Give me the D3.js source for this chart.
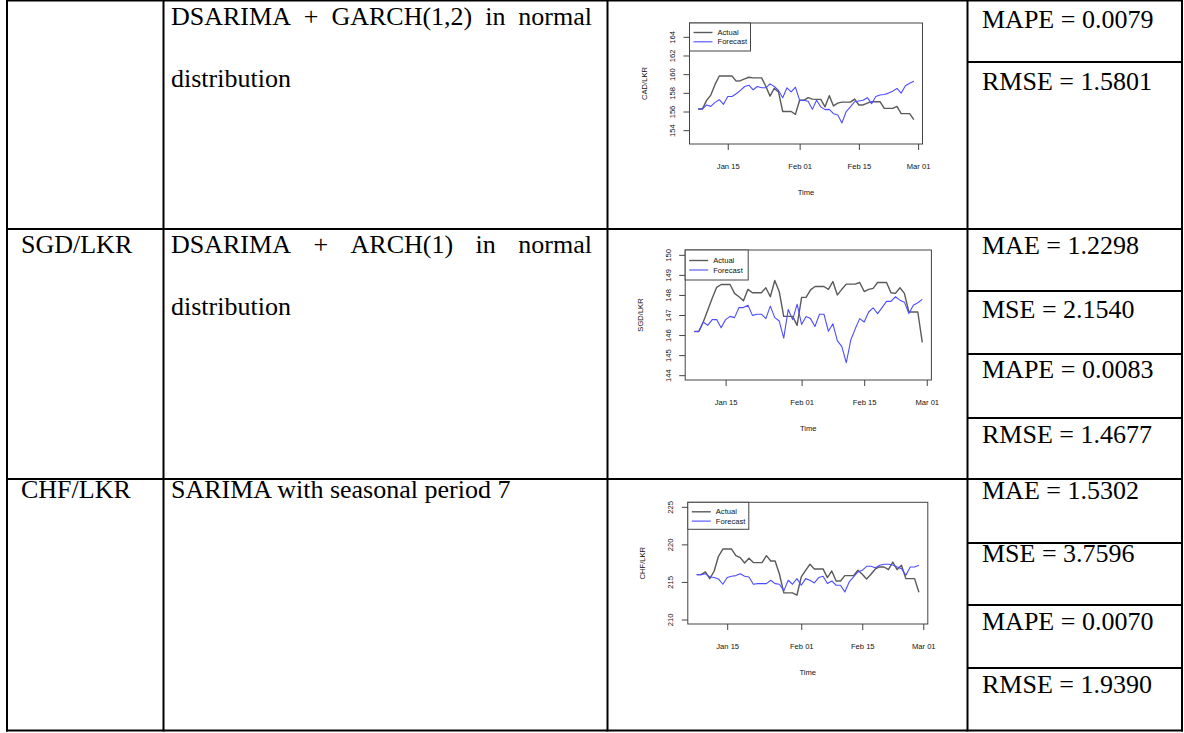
<!DOCTYPE html>
<html><head><meta charset="utf-8">
<script src="https://cdn.jsdelivr.net/npm/d3@7"></script>
<style>
html,body{margin:0;padding:0;background:#fff;}
svg{display:block;}
</style></head>
<body>
<svg id="c" width="1184" height="733"></svg>
<script>
// ---------- DATA ----------
const startDate = "2021-01-08";
const endDate = "2021-02-28";
const xTickDates = ["2021-01-15", "2021-02-01", "2021-02-15", "2021-03-01"];
const legendLabels = ["Actual", "Forecast"];

const cadActual = [156.27,156.27,157.19,157.76,158.9,159.8,159.8,159.8,159.8,159.25,
  159.3,159.5,159.67,159.6,159.6,159.6,158.7,157.65,158.47,158.1,
  156.0,156.0,156.0,155.7,157.2,157.2,157.48,157.33,157.3,157.3,
  156.5,157.7,156.6,156.9,157.0,157.0,157.0,157.33,156.7,156.7,
  156.9,157.05,157.05,157.05,156.34,156.34,156.34,156.55,155.77,155.77,
  155.77,155.13];
const cadForecast = [156.27,156.27,156.7,156.55,156.98,157.26,156.77,157.6,157.6,157.9,
  158.26,158.68,158.82,158.33,158.68,158.54,158.54,158.96,158.68,158.26,
  157.48,158.54,158.1,158.6,157.2,157.2,157.1,156.23,157.2,156.5,
  156.2,156.23,155.77,155.63,154.78,156.0,156.5,157.05,157.12,157.2,
  157.48,156.84,157.6,157.76,157.83,157.97,158.18,158.47,157.97,158.75,
  159.03,159.25];
const cadYTicks = [154,156,158,160,162,164];
const cadYLim = [153,165];

const sgdActual = [146.18,146.18,146.65,147.24,147.83,148.38,148.52,148.52,148.52,148.08,
  147.91,147.71,148.28,148.11,148.11,148.11,148.36,147.91,148.72,148.16,
  146.93,146.93,146.93,146.48,147.88,147.88,148.25,148.42,148.42,148.42,
  148.28,148.67,148.0,148.28,148.54,148.54,148.54,148.62,148.17,148.28,
  148.33,148.62,148.62,148.62,148.11,148.08,148.36,148.08,147.15,147.15,
  147.15,145.64];
const sgdForecast = [146.18,146.18,146.65,146.48,146.77,146.77,146.36,146.77,146.93,146.87,
  147.37,147.37,147.49,146.98,147.04,147.04,146.82,147.44,146.87,146.7,
  145.85,147.27,146.77,147.54,146.53,146.93,146.82,146.43,147.04,147.04,
  146.19,146.56,145.72,145.42,144.62,145.75,146.31,146.82,146.65,147.15,
  147.36,147.07,147.37,147.68,147.68,147.91,147.74,147.64,147.07,147.49,
  147.61,147.78];
const sgdYTicks = [144,145,146,147,148,149,150];
const sgdYLim = [144,150];

const chfActual = [215.97,215.97,216.33,215.44,216.42,218.41,219.38,219.38,219.38,218.5,
  218.23,217.52,218.14,217.57,217.57,217.57,218.5,217.79,217.79,216.02,
  213.54,213.54,213.54,213.23,215.66,216.55,217.35,216.73,216.73,216.73,
  215.58,216.46,215.13,215.13,215.84,215.84,215.84,216.55,216.02,215.4,
  216.02,216.73,216.99,216.99,216.64,217.65,216.64,217.21,215.44,215.44,
  215.44,213.63];
const chfForecast = [215.97,215.97,216.1,215.66,215.58,215.4,214.69,215.58,215.75,215.84,
  216.1,215.75,215.66,214.69,214.78,214.78,214.78,215.22,214.78,214.69,
  213.81,215.22,214.69,215.44,214.56,215.44,215.22,214.87,215.58,215.75,
  214.78,215.13,214.56,214.56,213.67,215.0,215.66,216.33,216.55,217.08,
  217.08,216.9,217.21,217.35,217.35,217.26,216.99,216.77,215.88,216.99,
  216.99,217.21];
const chfYTicks = [210,215,220,225];
const chfYLim = [210,225];

const pairLabels = ["", "SGD/LKR", "CHF/LKR"];
const modelLines = [
  ["DSARIMA + GARCH(1,2) in normal", "distribution"],
  ["DSARIMA + ARCH(1) in normal", "distribution"],
  ["SARIMA with seasonal period 7"]
];
const metricTexts = [
  ["MAPE = 0.0079", "RMSE = 1.5801"],
  ["MAE = 1.2298", "MSE = 2.1540", "MAPE = 0.0083", "RMSE = 1.4677"],
  ["MAE = 1.5302", "MSE = 3.7596", "MAPE = 0.0070", "RMSE = 1.9390"]
];

// ---------- LAYOUT ----------
const svg = d3.select("#c");
const serif = "'Liberation Serif','Times New Roman',serif";
const sans = "'Liberation Sans',Arial,Helvetica,sans-serif";

// table grid
const colX = [7, 163.5, 607.5, 967.5, 1182];
const rowY = [0.5, 229, 479, 730.5];
const subY = [62, 291, 354, 418, 543, 605, 668];
const grid = svg.append("g").attr("stroke", "#000").attr("stroke-width", 2);
colX.forEach(x => grid.append("line").attr("x1", x).attr("x2", x).attr("y1", 0).attr("y2", 731.5));
rowY.forEach(y => grid.append("line").attr("x1", 6).attr("x2", 1183).attr("y1", y).attr("y2", y));
subY.forEach(y => grid.append("line").attr("x1", colX[3]).attr("x2", colX[4]).attr("y1", y).attr("y2", y));

const txt = svg.append("g").attr("font-family", serif).attr("font-size", 26).attr("fill", "#000");

// pair column
const pairBase = [0, 253, 498];
pairLabels.forEach((p, i) => { if (p) txt.append("text").attr("x", 21).attr("y", pairBase[i]).text(p); });

// model column (justify first line when there are two lines)
const modelBase = [[25, 87], [253, 315], [498]];
const jLeft = 171, jRight = 592;
modelLines.forEach((lines, i) => {
  lines.forEach((line, j) => {
    const y = modelBase[i][j];
    if (lines.length > 1 && j === 0) {
      const words = line.split(" ");
      const nodes = words.map(w => txt.append("text").attr("y", y).text(w));
      const widths = nodes.map(n => n.node().getComputedTextLength());
      const total = d3.sum(widths);
      const gap = (jRight - jLeft - total) / (words.length - 1);
      let x = jLeft;
      nodes.forEach((n, k) => { n.attr("x", x); x += widths[k] + gap; });
    } else {
      txt.append("text").attr("x", jLeft).attr("y", y).text(line);
    }
  });
});

// metric column
const metricBase = [[28, 90], [254, 318, 378, 443], [499, 562, 630, 693]];
metricTexts.forEach((ms, i) => ms.forEach((m, j) => {
  txt.append("text").attr("x", 982).attr("y", metricBase[i][j]).text(m);
}));

// ---------- CHARTS ----------
const parse = d3.timeParse("%Y-%m-%d");
const dates = d3.timeDay.range(parse(startDate), d3.timeDay.offset(parse(endDate), 1));
const fmt = d3.timeFormat("%b %d");

function drawChart(cfg) {
  const {l, r, t, b} = cfg.box;
  const g = svg.append("g").attr("font-family", sans).attr("fill", "#111");
  const d0 = dates[0], d1 = dates[dates.length - 1];
  const span = d1 - d0;
  const x = d3.scaleTime()
    .domain([new Date(+d0 - 0.04 * span), new Date(+d1 + 0.04 * span)])
    .range([l, r]);
  const yr = cfg.ylim[1] - cfg.ylim[0];
  const y = d3.scaleLinear()
    .domain([cfg.ylim[0] - 0.04 * yr, cfg.ylim[1] + 0.04 * yr])
    .range([b, t]);

  // x axis
  const xa = g.append("g").attr("transform", `translate(0,${b})`)
    .call(d3.axisBottom(x).tickValues(xTickDates.map(parse)).tickFormat(fmt).tickSize(6));
  xa.select(".domain").remove();
  xa.selectAll(".tick line").attr("stroke", "#444").attr("stroke-width", 1);
  xa.selectAll(".tick text").attr("y", 22).attr("dy", "0.35em")
    .attr("font-size", 7.6).attr("font-family", sans).attr("fill", "#111");

  // y axis
  const ya = g.append("g").attr("transform", `translate(${l},0)`)
    .call(d3.axisLeft(y).tickValues(cfg.yTicks).tickFormat(d3.format("d")).tickSize(6));
  ya.select(".domain").remove();
  ya.selectAll(".tick line").attr("stroke", "#444").attr("stroke-width", 1);
  ya.selectAll(".tick text").attr("x", null).attr("dy", "0.35em")
    .attr("transform", "translate(-17,0) rotate(-90)")
    .attr("text-anchor", "middle")
    .attr("font-size", 7.6).attr("font-family", sans).attr("fill", "#111");

  // titles
  g.append("text").attr("x", (l + r) / 2).attr("y", b + 48).attr("dy", "0.35em")
    .attr("text-anchor", "middle").attr("font-size", 7.6).text("Time");
  g.append("text").attr("transform", `translate(${l - 45},${(t + b) / 2}) rotate(-90)`)
    .attr("dy", "0.35em").attr("text-anchor", "middle").attr("font-size", 7.6).text(cfg.ylabel);

  // lines
  const line = d3.line().x((d, i) => x(dates[i])).y(d => y(d));
  g.append("path").datum(cfg.actual).attr("d", line)
    .attr("fill", "none").attr("stroke", "#5a5a5a").attr("stroke-width", 1.4).attr("stroke-linejoin", "round");
  g.append("path").datum(cfg.forecast).attr("d", line)
    .attr("fill", "none").attr("stroke", "#4d4dff").attr("stroke-width", 1.1).attr("stroke-linejoin", "round");

  // box
  g.append("rect").attr("x", l).attr("y", t).attr("width", r - l).attr("height", b - t)
    .attr("fill", "none").attr("stroke", "#444").attr("stroke-width", 1);

  // legend
  const lg = g.append("g").attr("transform", `translate(${l},${t})`);
  lg.append("rect").attr("x", 0).attr("y", 0).attr("width", cfg.leg[0]).attr("height", cfg.leg[1])
    .attr("fill", "#fff").attr("stroke", "#444").attr("stroke-width", 1);
  const colors = ["#5a5a5a", "#4d4dff"];
  legendLabels.forEach((lab, i) => {
    const yy = cfg.leg[2] + i * cfg.leg[3];
    lg.append("line").attr("x1", 4).attr("x2", 23).attr("y1", yy).attr("y2", yy)
      .attr("stroke", colors[i]).attr("stroke-width", i ? 1.1 : 1.4);
    lg.append("text").attr("x", 28).attr("y", yy).attr("dy", "0.35em").attr("font-size", 7.6).text(lab);
  });
}

drawChart({box: {l: 689.5, r: 922.5, t: 23, b: 144}, ylim: cadYLim, yTicks: cadYTicks,
  ylabel: "CAD/LKR", actual: cadActual, forecast: cadForecast, leg: [61, 28, 9.5, 9.3]});
drawChart({box: {l: 685.2, r: 931.4, t: 250, b: 380}, ylim: sgdYLim, yTicks: sgdYTicks,
  ylabel: "SGD/LKR", actual: sgdActual, forecast: sgdForecast, leg: [63, 30, 10.5, 9.5]});
drawChart({box: {l: 687.8, r: 927.8, t: 502.3, b: 624}, ylim: chfYLim, yTicks: chfYTicks,
  ylabel: "CHF/LKR", actual: chfActual, forecast: chfForecast, leg: [61, 27, 9.5, 9.3]});
</script>
</body></html>
